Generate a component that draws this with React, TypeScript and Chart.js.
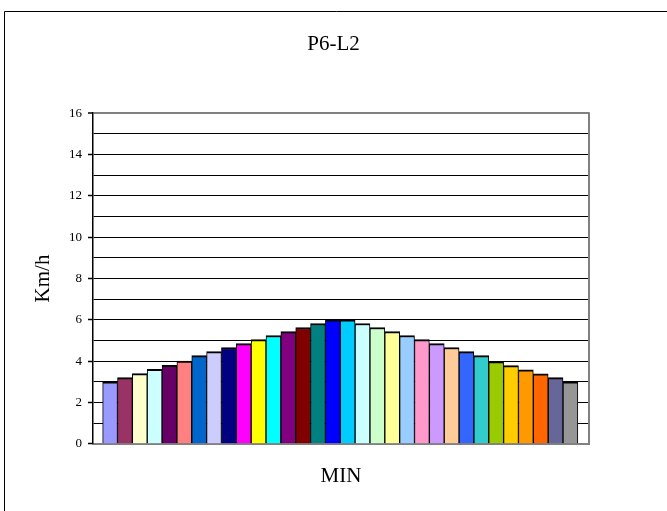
import React, { useEffect, useRef } from "react";
import { Chart, registerables } from "chart.js";

Chart.register(...registerables);

const minutes = [1, 2, 3, 4, 5, 6, 7, 8, 9, 10, 11, 12, 13, 14, 15, 16, 17, 18, 19, 20, 21, 22, 23, 24, 25, 26, 27, 28, 29, 30, 31, 32];
const speeds = [3.0, 3.2, 3.4, 3.6, 3.8, 4.0, 4.27, 4.46, 4.66, 4.85, 5.04, 5.24, 5.43, 5.63, 5.82, 6.0, 6.0, 5.82, 5.63, 5.43, 5.24, 5.04, 4.85, 4.66, 4.46, 4.27, 3.98, 3.78, 3.58, 3.39, 3.2, 3.0];
const barColors = [
  "#9999FF", "#993366", "#FFFFCC", "#CCFFFF", "#660066", "#FF8080", "#0066CC", "#CCCCFF",
  "#000080", "#FF00FF", "#FFFF00", "#00FFFF", "#800080", "#800000", "#008080", "#0000FF",
  "#00CCFF", "#CCFFFF", "#CCFFCC", "#FFFF99", "#99CCFF", "#FF99CC", "#CC99FF", "#FFCC99",
  "#3366FF", "#33CCCC", "#99CC00", "#FFCC00", "#FF9900", "#FF6600", "#666699", "#969696",
];
const titleText = "P6-L2";
const xTitle = "MIN";
const yTitle = "Km/h";
const yMin = 0;
const yMax = 16;

const FONT = "'Liberation Serif', 'Times New Roman', serif";

const framePlugin = {
  id: "frame",
  beforeDraw(chart: any) {
    const ctx = chart.ctx;
    ctx.save();
    ctx.fillStyle = "#ffffff";
    ctx.fillRect(0, 0, chart.width, chart.height);
    ctx.strokeStyle = "#000000";
    ctx.lineWidth = 1;
    ctx.beginPath();
    ctx.moveTo(4.5, chart.height + 2);
    ctx.lineTo(4.5, 11.5);
    ctx.lineTo(chart.width + 2, 11.5);
    ctx.stroke();
    ctx.restore();
  },
  beforeDatasetsDraw(chart: any) {
    const ctx = chart.ctx;
    const a = chart.chartArea;
    ctx.save();
    ctx.strokeStyle = "#808080";
    ctx.lineWidth = 2;
    ctx.beginPath();
    ctx.moveTo(Math.round(a.right), a.top - 1);
    ctx.lineTo(Math.round(a.right), a.bottom + 1);
    ctx.stroke();
    ctx.restore();
  },
};

export default function App() {
  const ref = useRef<HTMLCanvasElement | null>(null);

  useEffect(() => {
    document.body.style.margin = "0";
    const canvas = ref.current;
    if (!canvas) return;
    const chart = new Chart(canvas, {
      type: "bar",
      data: {
        datasets: [
          {
            data: minutes.map((m, i) => ({ x: m, y: speeds[i] })),
            backgroundColor: barColors,
            borderColor: "#000000",
            borderWidth: { top: 2, left: 1, right: 1, bottom: 0 },
            borderSkipped: false,
            barPercentage: 1,
            categoryPercentage: 1,
          },
        ],
      },
      options: {
        responsive: false,
        animation: false,
        events: [],
        layout: { padding: 0 },
        plugins: {
          legend: { display: false },
          tooltip: { enabled: false },
          title: {
            display: true,
            text: titleText,
            color: "#000000",
            font: { family: FONT, size: 21, weight: "normal", lineHeight: 1.2 },
            padding: { top: 32, bottom: 56 },
          },
        },
        scales: {
          x: {
            type: "linear",
            offset: false,
            min: -0.15,
            max: 33.25,
            grid: { display: false, drawTicks: false, tickLength: 0 },
            ticks: { display: false },
            border: { display: true, color: "#808080", width: 2 },
            title: {
              display: true,
              text: xTitle,
              color: "#000000",
              font: { family: FONT, size: 21, weight: "normal", lineHeight: 1.2 },
              padding: { top: 20, bottom: 22 },
            },
          },
          y: {
            min: yMin,
            max: yMax,
            afterFit(scale: any) {
              scale.width = 93;
            },
            ticks: {
              stepSize: 1,
              autoSkip: false,
              padding: 6,
              color: "#000000",
              font: { family: FONT, size: 13 },
              callback: (v: any) => (Number(v) % 2 === 0 ? String(v) : ""),
            },
            grid: {
              color: (c: any) => (c.tick && (c.tick.value === yMax || c.tick.value === yMin) ? "#808080" : "#000000"),
              lineWidth: (c: any) => (c.tick && c.tick.value === yMax ? 2 : 1),
              tickColor: (c: any) => (c.tick && c.tick.value % 2 === 0 ? "#000000" : "rgba(0,0,0,0)"),
              tickLength: 5,
              tickWidth: 1.5,
            },
            border: { display: true, color: "#000000", width: 1.5 },
            title: {
              display: true,
              text: yTitle,
              color: "#000000",
              font: { family: FONT, size: 21, weight: "normal", lineHeight: 1.2 },
              padding: { top: 31, bottom: 0 },
            },
          },
          yRight: {
            type: "linear",
            position: "right",
            display: true,
            min: yMin,
            max: yMax,
            afterFit(scale: any) {
              scale.width = 78;
            },
            grid: { display: false, drawTicks: false, tickLength: 0 },
            ticks: { display: false },
            border: { display: false },
          },
        },
      },
      plugins: [framePlugin],
    } as any);
    return () => chart.destroy();
  }, []);

  return <canvas ref={ref} width={667} height={511} style={{ display: "block" }} />;
}
